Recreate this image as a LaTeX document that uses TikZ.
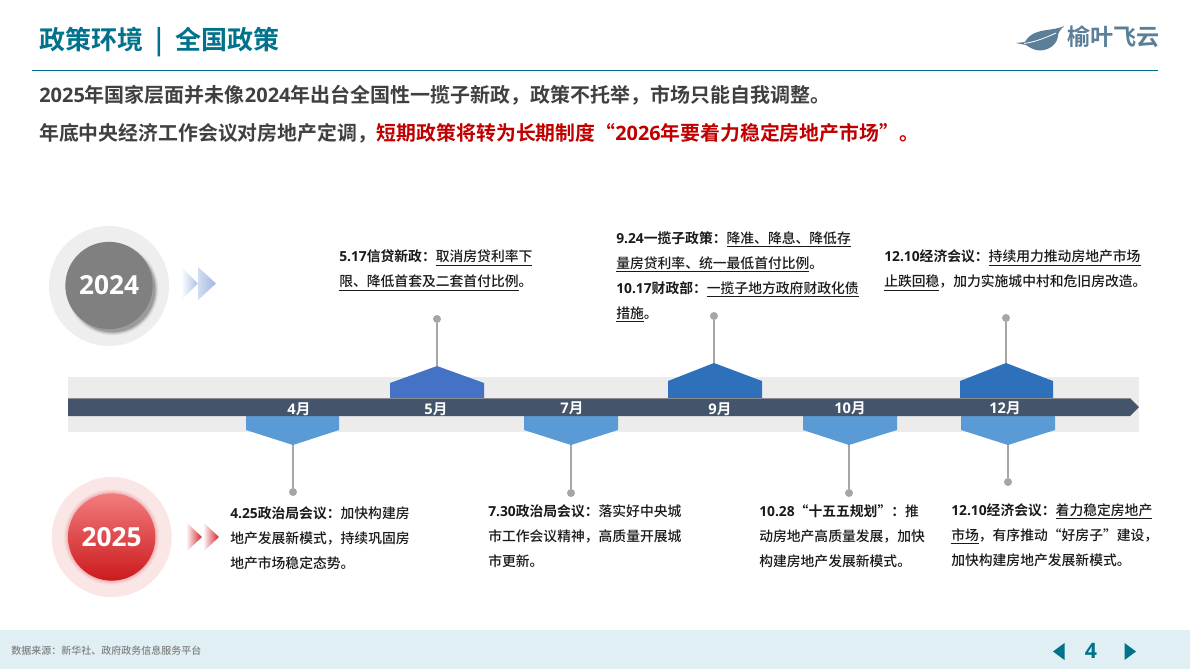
\documentclass[tikz,border=0pt]{standalone}
\usepackage{fontspec}
\setmainfont{Noto Sans CJK SC}[UprightFont=* Medium,BoldFont=* Bold]
\newfontfamily\latf{Open Sans}
\newcommand{\ls}[1]{{\latf #1}}
\usetikzlibrary{calc}
\definecolor{teal1}{HTML}{00728C}
\definecolor{head}{HTML}{404040}
\definecolor{redt}{HTML}{C00000}
\definecolor{band}{HTML}{ECECEC}
\definecolor{bar}{HTML}{44546A}
\definecolor{pA}{HTML}{4472C4}
\definecolor{pB}{HTML}{2E70B9}
\definecolor{pC}{HTML}{5B9BD5}
\definecolor{stem}{HTML}{A6A6A6}
\definecolor{logoc}{HTML}{5C7F99}
\definecolor{foot}{HTML}{E0EFF3}
\definecolor{ink}{HTML}{1A1A1A}
\definecolor{rtop}{HTML}{F27C7E}
\definecolor{rbot}{HTML}{CC1A1C}
\definecolor{rring}{HTML}{FBE6E6}
\definecolor{arrR}{HTML}{D2232A}
\tikzset{
 desc/.style={anchor=west,inner sep=0pt,align=left,text=ink,font=\fontsize{10.35}{18.75}\selectfont},
 month/.style={inner sep=0pt,text=white,font=\fontsize{11}{13}\selectfont\bfseries},
 dotn/.style={circle,fill=stem,inner sep=0pt,minimum size=6pt},
 stemline/.style={draw=stem,line width=2.1pt},
 headline/.style={anchor=west,inner sep=0pt,text=head},
 yearnum/.style={circle,inner sep=0pt,text=white,font=\fontsize{19.7}{22}\selectfont\bfseries\latf},
}
\newcommand{\ub}[1]{\underline{#1}}
\newcommand{\pentup}[6]{% left right apex-x apex-y shoulder colour
 \fill[#6] (#1,398) -- (#1,#5) -- (#3,#4) -- (#2,#5) -- (#2,398) -- cycle;}
\newcommand{\pentdown}[4]{% left right apex-x colour
 \fill[#4] (#1,416) -- (#1,430) -- (#3,445) -- (#2,430) -- (#2,416) -- cycle;}
\begin{document}
\begin{tikzpicture}[x=0.75pt,y=-0.75pt]
\useasboundingbox (0,0) rectangle (1190,669);
\fill[white] (0,0) rectangle (1190,669);
% header
\node[anchor=west,inner sep=0pt,text=teal1,font=\fontsize{19.5}{22}\selectfont\bfseries] (title) at (39,42) {政策环境\hspace{9.2pt}|\hspace{9.2pt}全国政策};
\coordinate (ruleL) at (32,70.5); \coordinate (ruleR) at (1158,70.5);
\draw[teal1,line width=1pt] (ruleL) -- (ruleR);
% logo
\fill[logoc] (1016,43) -- (1025,42) .. controls (1029,34) and (1038,31) .. (1047,30) .. controls (1054,29) and (1060,28) .. (1064,26) .. controls (1060,30) and (1058,33) .. (1058,36) .. controls (1057,44) and (1050,50) .. (1040,50.5) .. controls (1034,50.5) and (1029,47) .. (1026,45) -- cycle;
\draw[white,line width=0.6pt] (1024,43.5) .. controls (1035,42) and (1045,38) .. (1056,33);
\node[anchor=west,inner sep=0pt,text=logoc,font=\fontsize{17.3}{20}\selectfont\bfseries] (logo) at (1067,37) {榆叶飞云};
% headline
\node[headline,font=\fontsize{15}{18}\selectfont\bfseries] (h1) at (39,95) {\ls{2025}年国家层面并未像\ls{2024}年出台全国性一揽子新政，政策不托举，市场只能自我调整。};
\node[headline,font=\fontsize{14.9}{18}\selectfont\bfseries] (h2) at (39,133) {年底中央经济工作会议对房地产定调，\textcolor{redt}{短期政策将转为长期制度“\ls{2026}年要着力稳定房地产市场”。}};
% band
\fill[band] (68,377) rectangle (1139,432);
% pentagons
\pentup{390}{484}{437}{366}{383}{pA}
\pentup{668}{762}{714}{363}{381}{pB}
\pentup{960}{1053}{1006}{363}{381}{pB}
\pentdown{246}{339}{293}{pC}
\pentdown{524}{618}{571}{pC}
\pentdown{803}{897}{849}{pC}
\pentdown{961}{1055}{1008}{pC}
% bar
\fill[bar] (68,398) -- (1130,398) -- (1139,407) -- (1130,416) -- (68,416) -- cycle;
\draw[stem!70!bar,line width=0.5pt] (68,398) -- (1130,398);
% months
\node[month] (m4) at (299,409) {\ls{4}月};
\node[month] (m5) at (436,409) {\ls{5}月};
\node[month] (m7) at (572,408) {\ls{7}月};
\node[month] (m9) at (720,409) {\ls{9}月};
\node[month] (m10) at (850,408) {\ls{10}月};
\node[month] (m12) at (1005,408) {\ls{12}月};
% stems
\coordinate (a4) at (293,445); \coordinate (a5) at (437,366); \coordinate (a7) at (571,445);
\coordinate (a9) at (714,363); \coordinate (a10) at (849,445); \coordinate (a12u) at (1006,363); \coordinate (a12d) at (1008,445);
\node[dotn] (d4) at (293,492) {};
\node[dotn] (d5) at (437,319) {};
\node[dotn] (d7) at (571,493) {};
\node[dotn] (d9) at (714,316) {};
\node[dotn] (d10) at (849,493) {};
\node[dotn] (d12u) at (1006,318) {};
\node[dotn] (d12d) at (1008,482) {};
\foreach \a/\b in {a4/d4,a5/d5,a7/d7,a9/d9,a10/d10,a12u/d12u,a12d/d12d}
  \draw[stemline] (\a) -- (\b);
% texts
\node[desc] (t5) at (339,270.5) {\textbf{\ls{5.17}信贷新政：}\ub{取消房贷利率下}\\\ub{限、降低首套及二套首付比例}。};
\node[desc] (t9) at (616,277) {\textbf{\ls{9.24}一揽子政策：}\ub{降准、降息、降低存}\\\ub{量房贷利率、统一最低首付比例}。\\\textbf{\ls{10.17}财政部：}\ub{一揽子地方政府财政化债}\\\ub{措施}。};
\node[desc] (t12u) at (884,270.3) {\textbf{\ls{12.10}经济会议：}\ub{持续用力推动房地产市场}\\\ub{止跌回稳}，加力实施城中村和危旧房改造。};
\node[desc] (t4) at (230,538) {\textbf{\ls{4.25}政治局会议：}加快构建房\\地产发展新模式，持续巩固房\\地产市场稳定态势。};
\node[desc] (t7) at (488,536) {\textbf{\ls{7.30}政治局会议：}落实好中央城\\市工作会议精神，高质量开展城\\市更新。};
\node[desc] (t10) at (759,536) {\textbf{\ls{10.28}“十五五规划”：}推\\动房地产高质量发展，加快\\构建房地产发展新模式。};
\node[desc] (t12d) at (951,535) {\textbf{\ls{12.10}经济会议：}\ub{着力稳定房地产}\\\ub{市场}，有序推动“好房子”建设，\\加快构建房地产发展新模式。};
% 2024 circle
\fill[black!6.5] (109,286) circle (45pt);
\foreach \r/\o in {34.5/0.03,34/0.04,33.5/0.05,33/0.07,32.5/0.09,32/0.11}
  \fill[black,opacity=\o] (112.5,289.5) circle (\r pt);
\node[yearnum,fill=black!50,minimum size=65.5pt] (y24) at (109,285.5) {2024};
\shade[left color=white,right color=pA!45!white] (181,267) -- (198,283.5) -- (181,300) -- cycle;
\shade[left color=pA!25!white,right color=pA!50!white] (198,267) -- (216,283.5) -- (198,300) -- cycle;
% 2025 circle
\fill[rring] (111.7,537) circle (45pt);
\foreach \r/\o in {36/0.03,35.2/0.05,34.4/0.07,33.6/0.09}
  \fill[rbot,opacity=\o] (111.7,537) circle (\r pt);
\node[yearnum,top color=rtop,bottom color=rbot,minimum size=65.5pt] (y25) at (111.7,537) {2025};
\shade[left color=white,right color=arrR] (186,522) -- (202,537) -- (186,552) -- cycle;
\shade[left color=white,right color=arrR] (203,522) -- (219,537) -- (203,552) -- cycle;
% footer
\fill[foot] (0,630) rectangle (1190,669);
\node[anchor=west,inner sep=0pt,text=black!50,font=\fontsize{7.5}{9}\selectfont] (src) at (11,650.5) {数据来源：新华社、政府政务信息服务平台};
\fill[teal1] (1053,651.5) -- (1064.5,643) -- (1064.5,660) -- cycle;
\fill[teal1] (1136,651.5) -- (1124.5,643) -- (1124.5,660) -- cycle;
\node[inner sep=0pt,text=teal1,font=\fontsize{16}{18}\selectfont\bfseries\latf] (page) at (1091,651) {4};
\end{tikzpicture}
\end{document}
